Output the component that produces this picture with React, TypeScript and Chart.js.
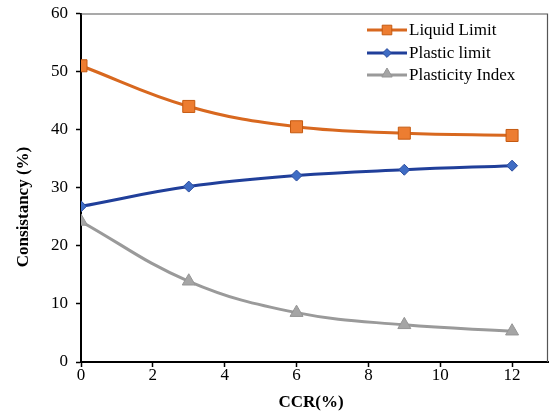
import React, { useEffect, useRef } from "react";
import { Chart, registerables } from "chart.js";

Chart.register(...registerables);

const ccr = [0, 3, 6, 9, 12];
const liquidLimit = [51.0, 44.0, 40.5, 39.4, 39.0];
const plasticLimit = [26.8, 30.2, 32.1, 33.1, 33.8];
const plasticityIndex = [24.2, 13.9, 8.5, 6.4, 5.3];
const seriesNames = ["Liquid Limit", "Plastic limit", "Plasticity Index"];
const xTitle = "CCR(%)";
const yTitle = "Consistancy (%)";

const FONT = '"Liberation Serif", "Times New Roman", serif';

const styles = [
  { line: "#D8681F", fill: "#ED7D31", edge: "#C55A11", shape: "rect", radius: 8.5 },
  { line: "#203F9A", fill: "#3F6CC4", edge: "#2A4C9E", shape: "rectRot", radius: 5.5 },
  { line: "#9A9A9A", fill: "#A5A5A5", edge: "#959595", shape: "triangle", radius: 7.5 },
];

function drawMarker(ctx: CanvasRenderingContext2D, shape: string, x: number, y: number, r: number) {
  ctx.beginPath();
  if (shape === "rect") {
    const s = r * Math.SQRT1_2;
    ctx.rect(x - s, y - s, 2 * s, 2 * s);
  } else if (shape === "rectRot") {
    ctx.moveTo(x - r, y);
    ctx.lineTo(x, y - r);
    ctx.lineTo(x + r, y);
    ctx.lineTo(x, y + r);
    ctx.closePath();
  } else {
    const h = r * 1.5;
    const w = r * Math.sqrt(3);
    ctx.moveTo(x - w / 2, y + h / 3);
    ctx.lineTo(x, y - (2 * h) / 3);
    ctx.lineTo(x + w / 2, y + h / 3);
    ctx.closePath();
  }
  ctx.fill();
  ctx.stroke();
}

const zeroPad = (s: any) => {
  s.paddingTop = 0;
  s.paddingBottom = 0;
  s.paddingLeft = 0;
  s.paddingRight = 0;
};

const decorPlugin = {
  id: "decor",
  afterDraw(chart: any) {
    const ctx = chart.ctx as CanvasRenderingContext2D;
    const a = chart.chartArea;
    ctx.save();
    // frame top/right
    ctx.strokeStyle = "#555555";
    ctx.lineWidth = 1.2;
    ctx.beginPath();
    ctx.moveTo(a.left, a.top + 0.5);
    ctx.lineTo(a.right - 0.5, a.top + 0.5);
    ctx.lineTo(a.right - 0.5, a.bottom);
    ctx.stroke();

    // legend
    ctx.font = `17px ${FONT}`;
    ctx.textBaseline = "middle";
    ctx.textAlign = "left";
    const rows = [30, 53, 75];
    seriesNames.forEach((name, i) => {
      const st = styles[i];
      const y = rows[i];
      ctx.strokeStyle = st.line;
      ctx.lineWidth = 3;
      ctx.beginPath();
      ctx.moveTo(367, y);
      ctx.lineTo(407, y);
      ctx.stroke();
      ctx.fillStyle = st.fill;
      ctx.strokeStyle = st.edge;
      ctx.lineWidth = 1;
      drawMarker(ctx, st.shape, 387, st.shape === "triangle" ? y - 1 : y, st.radius * 0.8);
      ctx.fillStyle = "#000000";
      ctx.fillText(name, 409, y + 1);
    });

    // axis titles
    ctx.font = `bold 17px ${FONT}`;
    ctx.fillStyle = "#000000";
    ctx.textAlign = "center";
    ctx.textBaseline = "middle";
    ctx.fillText(xTitle, 311, 403);
    ctx.translate(24, 207);
    ctx.rotate(-Math.PI / 2);
    ctx.fillText(yTitle, 0, 0);
    ctx.restore();
  },
};

export default function App() {
  const ref = useRef<HTMLCanvasElement | null>(null);
  useEffect(() => {
    if (!ref.current) return;
    const series = [liquidLimit, plasticLimit, plasticityIndex];
    const chart = new Chart(ref.current, {
      type: "line",
      data: {
        datasets: series.map((vals, i) => ({
          label: seriesNames[i],
          data: vals.map((v, j) => ({ x: ccr[j], y: v })),
          borderColor: styles[i].line,
          borderWidth: 3,
          backgroundColor: styles[i].fill,
          pointBackgroundColor: styles[i].fill,
          pointBorderColor: styles[i].edge,
          pointBorderWidth: 1,
          pointStyle: styles[i].shape as any,
          pointRadius: styles[i].radius,
          pointHoverRadius: styles[i].radius,
          tension: 0.4,
          fill: false,
        })),
      },
      options: {
        animation: false,
        responsive: false,
        maintainAspectRatio: false,
        devicePixelRatio: 1,
        layout: { autoPadding: false, padding: { top: 13.5, right: 1, left: 0, bottom: 0 } },
        plugins: {
          legend: { display: false },
          tooltip: { enabled: false },
        },
        scales: {
          x: {
            type: "linear",
            min: 0,
            max: 13,
            afterFit: (s: any) => {
              s.height = 49;
              zeroPad(s);
            },
            ticks: {
              stepSize: 2,
              includeBounds: false,
              color: "#000",
              font: { family: FONT, size: 17 },
              padding: -2,
              maxRotation: 0,
            },
            grid: {
              drawOnChartArea: false,
              drawTicks: true,
              tickLength: 5,
              tickColor: "#000",
              tickWidth: 1.5,
            },
            border: { display: true, color: "#000", width: 2 },
          },
          y: {
            type: "linear",
            min: 0,
            max: 60,
            afterFit: (s: any) => {
              s.width = 81;
              zeroPad(s);
            },
            ticks: {
              stepSize: 10,
              color: "#000",
              font: { family: FONT, size: 17 },
              padding: 8,
            },
            grid: {
              drawOnChartArea: false,
              drawTicks: true,
              tickLength: 5,
              tickColor: "#000",
              tickWidth: 1.5,
            },
            border: { display: true, color: "#000", width: 2 },
          },
        },
      },
      plugins: [decorPlugin],
    });
    return () => chart.destroy();
  }, []);
  return (
    <div style={{ position: "absolute", left: 0, top: 0, width: 549, height: 411, background: "#fff" }}>
      <canvas ref={ref} width={549} height={411} style={{ display: "block", width: 549, height: 411 }} />
    </div>
  );
}
